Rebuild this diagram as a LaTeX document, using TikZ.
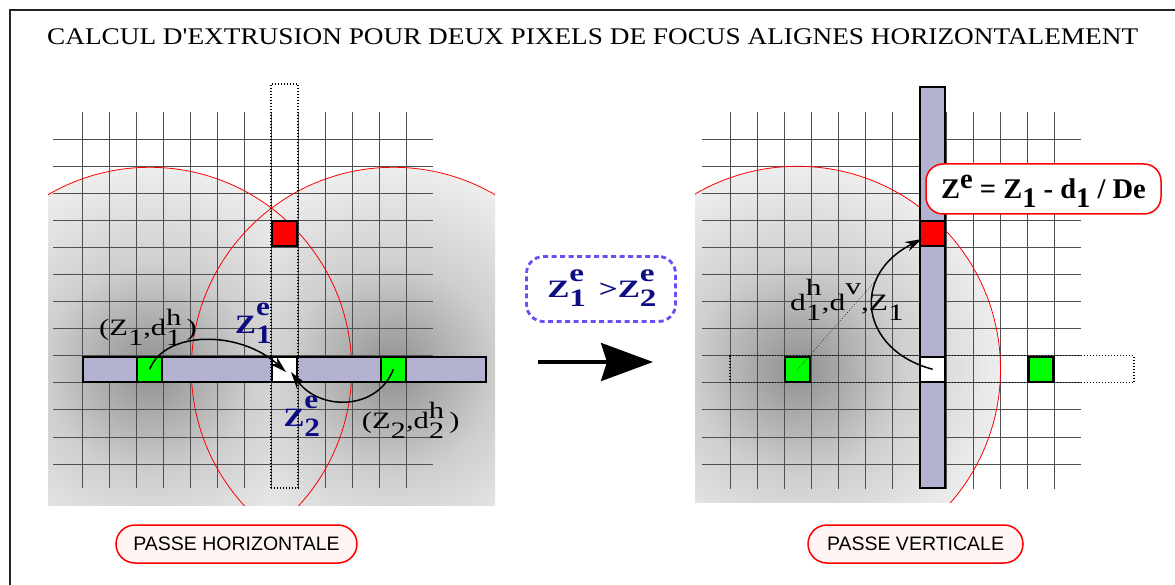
\documentclass[tikz,border=0pt]{standalone}
\usepackage{fontspec}
\setmainfont{Liberation Serif}
\newfontfamily\sansf{Liberation Sans}
\usetikzlibrary{arrows.meta}
\definecolor{lav}{RGB}{179,179,209}
\definecolor{navyb}{RGB}{12,12,130}
\definecolor{dashblue}{RGB}{100,80,245}
\definecolor{pillfill}{RGB}{255,245,245}
\definecolor{gridc}{RGB}{80,80,80}
\definecolor{framec}{RGB}{35,35,35}
\definecolor{shA}{gray}{0.56}
\definecolor{shB}{gray}{0.66}
\definecolor{shC}{gray}{0.81}
\definecolor{shD}{gray}{0.93}
\pgfdeclareradialshading{focus}{\pgfpoint{0bp}{0bp}}{color(0bp)=(shA); color(5bp)=(shB); color(13bp)=(shC); color(25bp)=(shD); color(50bp)=(shD)}
\newcommand\stk[4]{\makebox[0pt][l]{\raisebox{-#4}[0pt][0pt]{#1}}\raisebox{#3}[0pt][0pt]{#2}}
\newcommand\wx[2]{\scalebox{#1}[1]{#2}}
\tikzset{
  gridline/.style={gridc, line width=0.9pt},
  redc/.style={red, line width=0.8pt},
  cell/.style={draw=black, line width=2.5pt, minimum size=25pt, inner sep=0pt, outer sep=0pt},
  bar/.style={draw=black, line width=2pt, fill=lav, inner sep=0pt},
  dotbox/.style={draw=black, line width=1.3pt, dash pattern=on 1.3pt off 1.7pt, inner sep=0pt},
  carrow/.style={line width=1.5pt, -{Stealth[length=17pt,width=10pt]}},
  lab/.style={anchor=base west, inner sep=0pt, font=\fontsize{23.5}{28}\selectfont},
  blab/.style={anchor=base west, inner sep=0pt, text=navyb, font=\fontsize{26.5}{31}\selectfont\bfseries},
  pill/.style={draw=red, line width=1.5pt, fill=pillfill, rounded corners=19pt, minimum height=38pt, inner sep=0pt, font=\sansf\fontsize{19.5}{23}\selectfont},
}
\begin{document}
\begin{tikzpicture}[x=1pt, y=-1pt]
\useasboundingbox (0,0) rectangle (1175,585);
\fill[white] (0,0) rectangle (1175,585);
\draw[framec, line width=2pt] (10,600) -- (10,10) -- (1190,10);
\node[anchor=base west, inner sep=0pt] (title) at (47,45) {\wx{1.14}{\fontsize{23.9}{28}\selectfont CALCUL D\textquotesingle EXTRUSION POUR DEUX PIXELS DE FOCUS ALIGNES HORIZONTALEMENT}};
% focus centres
\coordinate (Lc1) at (149.7,369.3);
\coordinate (Lc2) at (393.3,369.3);
\coordinate (Rc1) at (797.5,369.3);
% shadings
\begin{scope}
  \clip (48,60) rectangle (495,505);
  \begin{scope}[blend mode=darken]
    \shade[shading=focus] (Lc1) circle[radius=202pt];
    \shade[shading=focus] (Lc2) circle[radius=202pt];
  \end{scope}
\end{scope}
\begin{scope}
  \clip (695,60) rectangle (1175,502);
  \shade[shading=focus] (Rc1) circle[radius=203pt];
\end{scope}
% grids
\foreach \i in {0,...,12} {
  \draw[gridline] ({82+27.07*\i},112) -- ({82+27.07*\i},488);
  \draw[gridline] (53,{139.3+27.06*\i}) -- (433,{139.3+27.06*\i});
  \draw[gridline] ({730+27.07*\i},112) -- ({730+27.07*\i},489);
  \draw[gridline] (702,{139.3+27.06*\i}) -- (1081,{139.3+27.06*\i});
}
% red circles
\begin{scope}
  \clip (48,60) rectangle (495,505);
  \draw[redc] (Lc1) circle[radius=202pt];
  \draw[redc] (Lc2) circle[radius=202pt];
\end{scope}
\begin{scope}
  \clip (695,60) rectangle (1175,502);
  \draw[redc] (Rc1) circle[radius=203pt];
\end{scope}
% left panel
\node[bar, minimum width=403pt, minimum height=25pt] (hbar) at (284.5,369.3) {};
\node[dotbox, minimum width=27pt, minimum height=404pt] (vdot) at (284.6,286) {};
\node[cell, fill=green] (g1) at (149.7,369.3) {};
\node[cell, fill=white] (w) at (284.6,369.3) {};
\node[cell, fill=green] (g2) at (393.3,369.3) {};
\node[cell, fill=red] (r) at (284.6,233.6) {};
% right panel
\node[dotbox, minimum width=404pt, minimum height=27pt] (hdot) at (932,369.3) {};
\node[bar, minimum width=25pt, minimum height=401.6pt] (vbar) at (932.7,287.5) {};
\node[cell, fill=green] (rg1) at (797.5,369.3) {};
\node[cell, fill=white] (rw) at (932.7,369.3) {};
\node[cell, fill=green] (rg2) at (1041.2,369.3) {};
\node[cell, fill=red] (rr) at (932.7,233.6) {};
% arrows
\coordinate (t1) at (286,372);
\coordinate (t2) at (291,372);
\coordinate (t3) at (922,239);
\coordinate (dend) at (878,278);
\draw[carrow] (g1.center) .. controls (165,330) and (240,330) .. (t1);
\draw[carrow] (g2.center) .. controls (378,410) and (320,412) .. (t2);
\draw[line width=0.6pt, dotted] (rg1.center) -- (dend);
\draw[carrow] (rw.center) .. controls (860,350) and (850,275) .. (t3);
% labels
\node[lab] (l1) at (99,335) {\wx{1.3}{(Z\raisebox{-10pt}[0pt][0pt]{1},d\stk{1}{h}{10pt}{10pt}\,)}};
\node[lab] (l2) at (361.7,428) {\wx{1.3}{(Z\raisebox{-10pt}[0pt][0pt]{2},d\stk{2}{h}{10pt}{10pt}\,)}};
\node[blab] (z1) at (235,333.3) {\wx{1.18}{Z\stk{1}{e}{18pt}{10pt}}};
\node[blab] (z2) at (283.3,426.7) {\wx{1.18}{Z\stk{2}{e}{18pt}{10pt}}};
\node[lab] (l3) at (790,310) {\wx{1.34}{d\stk{1}{h}{15pt}{10pt},d\raisebox{16pt}[0pt][0pt]{v},Z\raisebox{-10pt}[0pt][0pt]{1}}};
% middle
\node[draw=dashblue, line width=2.8pt, dash pattern=on 5pt off 3.5pt, rounded corners=17pt, minimum width=149pt, minimum height=65pt, inner sep=0pt, text=navyb, font=\fontsize{25}{30}\selectfont\bfseries] (cmp) at (601,289) {\wx{1.33}{Z\stk{1}{e}{16pt}{9pt}\hspace{11pt}>Z\stk{2}{e}{16pt}{9pt}}};
\coordinate (ba1) at (538,362);
\coordinate (ba2) at (653,362);
\draw[line width=3.3pt, -{Stealth[length=52pt,width=38pt,inset=6pt]}] (ba1) -- (ba2);
% formula
\node[draw=red, line width=1.5pt, fill=white, rounded corners=17pt, minimum width=235pt, minimum height=50pt, inner sep=0pt, font=\fontsize{28.5}{33}\selectfont\bfseries] (form) at (1043.5,189) {Z\raisebox{10.5pt}[0pt][0pt]{e} = Z\raisebox{-9pt}[0pt][0pt]{1} - d\raisebox{-9pt}[0pt][0pt]{1} / De};
% pills
\node[pill, minimum width=241pt] (ph) at (236.5,544) {PASSE HORIZONTALE};
\node[pill, minimum width=215pt] (pv) at (915.5,544) {PASSE VERTICALE};
\end{tikzpicture}
\end{document}
